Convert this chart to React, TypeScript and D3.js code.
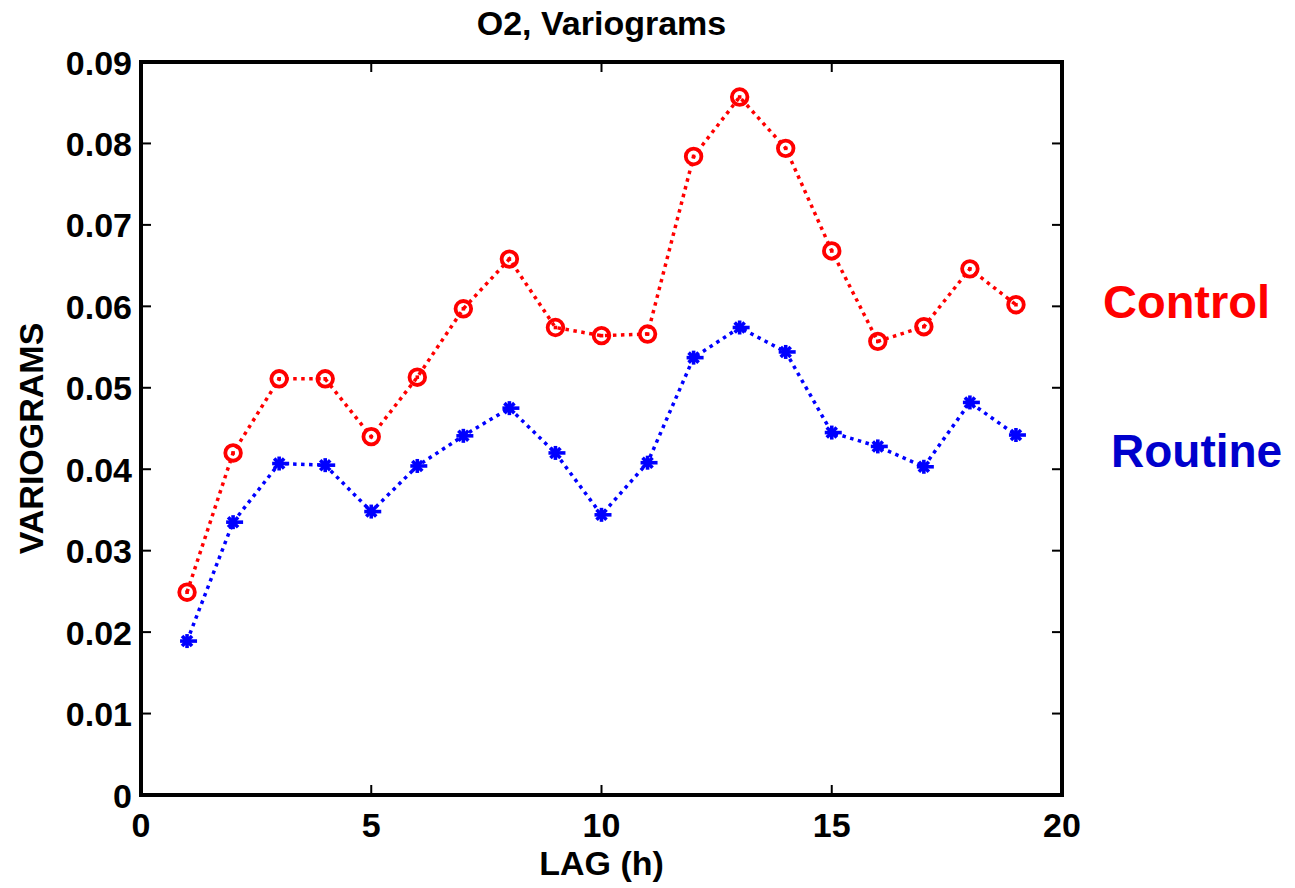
import React from "react";
import * as d3 from "d3";

const lags = [1, 2, 3, 4, 5, 6, 7, 8, 9, 10, 11, 12, 13, 14, 15, 16, 17, 18, 19];
const controlValues = [0.0249, 0.0420, 0.0511, 0.0511, 0.0440, 0.0513, 0.0597, 0.0658, 0.0574, 0.0564, 0.0566, 0.0784, 0.0857, 0.0794, 0.0668, 0.0557, 0.0575, 0.0646, 0.0602];
const routineValues = [0.0189, 0.0335, 0.0407, 0.0405, 0.0348, 0.0404, 0.0441, 0.0475, 0.0420, 0.0344, 0.0408, 0.0537, 0.0574, 0.0544, 0.0445, 0.0428, 0.0403, 0.0482, 0.0442];
const xTicks = [0, 5, 10, 15, 20];
const yTicks = [0, 0.01, 0.02, 0.03, 0.04, 0.05, 0.06, 0.07, 0.08, 0.09];

const W = 1295;
const H = 888;
const left = 141, right = 1062, top = 62, bottom = 795;
const FONT = "Liberation Sans, Arial, sans-serif";

export default function App() {
  const x = d3.scaleLinear().domain([0, 20]).range([left, right]);
  const y = d3.scaleLinear().domain([0, 0.09]).range([bottom, top]);
  const line = d3.line<number>().x((_, i) => x(lags[i])).y((d) => y(d));
  const fmtY = (v: number) => (v === 0 ? "0" : v.toFixed(2));
  const tl = 10;
  const star = (cx: number, cy: number, k: number) => {
    const s = 7, d = 5;
    return (
      <g key={k} stroke="#0000ff" strokeWidth={3.6}>
        <line x1={cx - s} y1={cy} x2={cx + s + 3} y2={cy} />
        <line x1={cx} y1={cy - s} x2={cx} y2={cy + s} />
        <line x1={cx - d} y1={cy - d} x2={cx + d} y2={cy + d} />
        <line x1={cx - d} y1={cy + d} x2={cx + d} y2={cy - d} />
        <rect x={cx - 3.5} y={cy - 3.5} width={7} height={7} fill="#0000ff" stroke="none" />
      </g>
    );
  };
  return (
    <svg width={W} height={H} style={{ position: "absolute", left: 0, top: 0, background: "#fff" }} fontFamily={FONT}>
      <rect x={0} y={0} width={W} height={H} fill="#fff" />
      <g stroke="#000" strokeWidth={2}>
        {xTicks.map((t) => (
          <g key={"xt" + t}>
            <line x1={x(t)} x2={x(t)} y1={bottom} y2={bottom - tl} />
            <line x1={x(t)} x2={x(t)} y1={top} y2={top + tl} />
          </g>
        ))}
        {yTicks.map((t) => (
          <g key={"yt" + t}>
            <line x1={left} x2={left + tl} y1={y(t)} y2={y(t)} />
            <line x1={right} x2={right - tl} y1={y(t)} y2={y(t)} />
          </g>
        ))}
      </g>
      <rect x={left} y={top} width={right - left} height={bottom - top} fill="none" stroke="#000" strokeWidth={4} />
      {xTicks.map((t) => (
        <text key={"xl" + t} x={x(t)} y={837} textAnchor="middle" fontSize={34} fontWeight="bold" fill="#000">
          {t}
        </text>
      ))}
      {yTicks.map((t) => (
        <text key={"yl" + t} x={132} y={y(t) + 12.5} textAnchor="end" fontSize={34} fontWeight="bold" fill="#000">
          {fmtY(t)}
        </text>
      ))}
      <text x={(left + right) / 2} y={35} textAnchor="middle" fontSize={34} fontWeight="bold" fill="#000">
        O2, Variograms
      </text>
      <text x={(left + right) / 2} y={875} textAnchor="middle" fontSize={34} fontWeight="bold" fill="#000">
        LAG (h)
      </text>
      <text transform={`translate(43, ${(top + bottom) / 2 + 10}) rotate(-90)`} textAnchor="middle" fontSize={34} fontWeight="bold" fill="#000">
        VARIOGRAMS
      </text>
      <path d={line(controlValues) || ""} fill="none" stroke="#ff0000" strokeWidth={3.5} strokeDasharray="3.5 4.5" />
      <path d={line(routineValues) || ""} fill="none" stroke="#0000ff" strokeWidth={3.5} strokeDasharray="3.5 4.5" />
      {controlValues.map((v, i) => (
        <g key={"c" + i}>
          <circle cx={x(lags[i])} cy={y(v)} r={7.8} fill="none" stroke="#ff0000" strokeWidth={3.8} />
          <rect x={x(lags[i]) - 1.8} y={y(v) - 1.8} width={3.6} height={3.6} fill="#ff0000" />
        </g>
      ))}
      {routineValues.map((v, i) => star(x(lags[i]), y(v), i))}
      <text x={1103} y={318} fontSize={47} fontWeight="bold" fill="#ff0000">
        Control
      </text>
      <text x={1111} y={467} fontSize={46} fontWeight="bold" fill="#0000cc">
        Routine
      </text>
    </svg>
  );
}
